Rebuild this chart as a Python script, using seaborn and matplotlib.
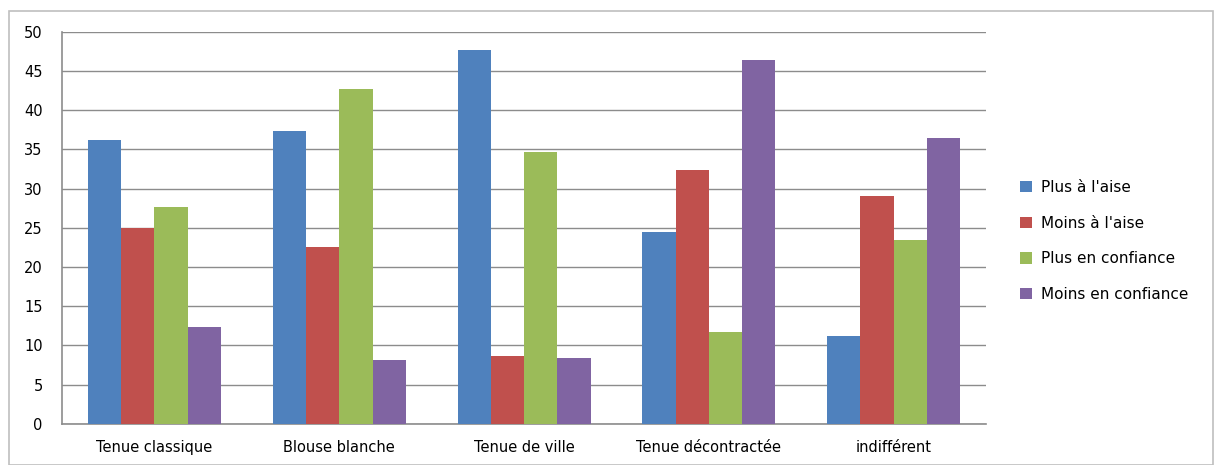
import matplotlib
matplotlib.use("Agg")
import matplotlib.pyplot as plt
import matplotlib.patches as mpatches
import seaborn as sns
import pandas as pd
import numpy as np

categories = ["Tenue classique", "Blouse blanche", "Tenue de ville",
              "Tenue décontractée", "indifférent"]
series = ["Plus à l'aise", "Moins à l'aise", "Plus en confiance", "Moins en confiance"]
plus_aise = [36.2, 37.3, 47.7, 24.4, 11.2]
moins_aise = [25.0, 22.5, 8.6, 32.3, 29.0]
plus_confiance = [27.7, 42.7, 34.7, 11.7, 23.4]
moins_confiance = [12.3, 8.1, 8.4, 46.4, 36.4]
colors = ["#4F81BD", "#C0504D", "#9BBB59", "#8064A2"]

rows = []
for s, vals in zip(series, [plus_aise, moins_aise, plus_confiance, moins_confiance]):
    for c, v in zip(categories, vals):
        rows.append({"categorie": c, "serie": s, "valeur": v})
df = pd.DataFrame(rows)

sns.set_style("white")
plt.rcParams['font.family'] = ['DejaVu Sans']
plt.rcParams['text.color'] = "black"
plt.rcParams['xtick.color'] = "black"
plt.rcParams['ytick.color'] = "black"

fig = plt.figure(figsize=(12.16, 4.65), dpi=100)
ax = fig.add_axes([0.051, 0.0888, 0.760, 0.8430])

# outer chart frame
fig.patches.append(mpatches.Rectangle((9 / 1216, 0), 1204 / 1216, 1 - 11 / 465,
                                      transform=fig.transFigure, fill=False,
                                      edgecolor="#BFBFBF", linewidth=1.2))

sns.barplot(data=df, x="categorie", y="valeur", hue="serie", palette=colors,
            width=0.72, saturation=1, ax=ax, errorbar=None, zorder=3,
            linewidth=0, edgecolor="none")

ax.set_ylim(0, 50)
ax.set_xlim(-0.5, len(categories) - 0.5)
ax.set_yticks(np.arange(0, 51, 5))
ax.yaxis.grid(True, color="#8C8C8C", linewidth=1, zorder=0)
ax.set_axisbelow(True)
ax.set_xlabel("")
ax.set_ylabel("")

for s in ["top", "right"]:
    ax.spines[s].set_visible(False)
for s in ["left", "bottom"]:
    ax.spines[s].set_color("#8C8C8C")
    ax.spines[s].set_linewidth(1.2)

ax.tick_params(axis="y", direction="out", length=6, color="#8C8C8C",
               labelcolor="black", labelsize=10.5, pad=8)
ax.tick_params(axis="x", which="major", length=0, labelcolor="black",
               labelsize=10.5, pad=12)
ax.set_xticks(np.arange(-0.5, len(categories), 1), minor=True)
ax.tick_params(axis="x", which="minor", direction="out", length=6, color="#8C8C8C")

leg = ax.legend(loc="center left", bbox_to_anchor=(1.022, 0.466), frameon=False,
                fontsize=11, handlelength=0.75, handleheight=0.75, handletextpad=0.6,
                labelspacing=1.35)
for t in leg.get_texts():
    t.set_color("black")

fig.savefig("out.png", dpi=100)
